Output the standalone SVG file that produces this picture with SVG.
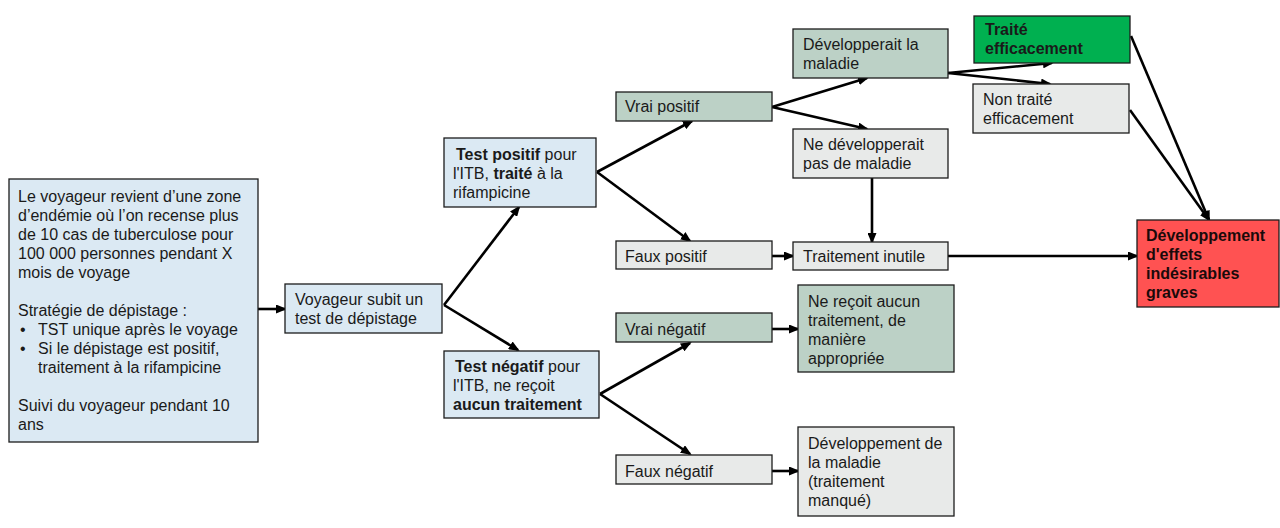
<svg xmlns="http://www.w3.org/2000/svg" width="1280" height="528" viewBox="0 0 1280 528">
<defs>
<marker id="ah" markerUnits="userSpaceOnUse" markerWidth="11" markerHeight="9" refX="9" refY="4.5" orient="auto">
<path d="M0,0 L11,4.5 L0,9 z" fill="#000"/>
</marker>
<style>
text{font-family:"Liberation Sans",Arial,sans-serif;font-size:16px;fill:#1a1a1a}
.b{font-weight:bold}
rect{stroke:#1c1c1c;stroke-width:1.3}
.blue{fill:#DBE9F3}
.sage{fill:#BCD1C6}
.gray{fill:#E8EAE9}
.green{fill:#00B050}
.red{fill:#FF5252}
.dark{fill:#1a0a0a}
#connectors line{stroke:#000;stroke-width:2.6;marker-end:url(#ah)}
</style>
</defs>
<rect width="1280" height="528" fill="#fff" style="stroke:none"/>

<g id="connectors">
<line x1="258" y1="309" x2="285" y2="309"/>
<line x1="444" y1="305" x2="519" y2="207"/>
<line x1="444" y1="305" x2="518" y2="350"/>
<line x1="597" y1="172" x2="692" y2="121"/>
<line x1="597" y1="172" x2="690" y2="241"/>
<line x1="600" y1="394" x2="690" y2="343"/>
<line x1="600" y1="394" x2="690" y2="454"/>
<line x1="772" y1="107" x2="867" y2="78"/>
<line x1="772" y1="107" x2="867" y2="129"/>
<line x1="772" y1="256" x2="793" y2="256"/>
<line x1="872" y1="178" x2="872" y2="242"/>
<line x1="948" y1="256" x2="1137" y2="256"/>
<line x1="948" y1="73" x2="1052" y2="63"/>
<line x1="948" y1="73" x2="1050" y2="84"/>
<line x1="1131" y1="36" x2="1209" y2="220"/>
<line x1="1130" y1="110" x2="1209" y2="220"/>
<line x1="772" y1="329" x2="798" y2="329"/>
<line x1="772" y1="471" x2="798" y2="471"/>
</g>

<g id="n-context">
<rect class="blue" x="9" y="179" width="249" height="263"/>
<text x="18" y="202">Le voyageur revient d’une zone</text>
<text x="18" y="221">d’endémie où l’on recense plus</text>
<text x="18" y="240">de 10 cas de tuberculose pour</text>
<text x="18" y="259">100 000 personnes pendant X</text>
<text x="18" y="278">mois de voyage</text>
<text x="18" y="316">Stratégie de dépistage :</text>
<text x="20" y="335">•</text><text x="38" y="335">TST unique après le voyage</text>
<text x="20" y="354">•</text><text x="38" y="354">Si le dépistage est positif,</text>
<text x="38" y="373">traitement à la rifampicine</text>
<text x="18" y="411">Suivi du voyageur pendant 10</text>
<text x="18" y="430">ans</text>
</g>

<g id="n-test">
<rect class="blue" x="285" y="284" width="157" height="49"/>
<text x="295" y="305">Voyageur subit un</text>
<text x="295" y="324">test de dépistage</text>
</g>

<g id="n-testpos">
<rect class="blue" x="444" y="138" width="152" height="69"/>
<text x="456" y="160"><tspan class="b">Test positif</tspan> pour</text>
<text x="453" y="179">l'ITB, <tspan class="b">traité</tspan> à la</text>
<text x="453" y="198">rifampicine</text>
</g>

<g id="n-testneg">
<rect class="blue" x="444" y="351" width="155" height="67"/>
<text x="455" y="372"><tspan class="b">Test négatif</tspan> pour</text>
<text x="453" y="391">l'ITB, ne reçoit</text>
<text x="453" y="410" class="b">aucun traitement</text>
</g>

<g id="n-vp">
<rect class="sage" x="616" y="92" width="156" height="29"/>
<text x="625" y="112">Vrai positif</text>
</g>

<g id="n-fp">
<rect class="gray" x="616" y="241" width="156" height="28"/>
<text x="625" y="262">Faux positif</text>
</g>

<g id="n-vn">
<rect class="sage" x="616" y="313" width="156" height="29"/>
<text x="625" y="335">Vrai négatif</text>
</g>

<g id="n-fn">
<rect class="gray" x="616" y="455" width="156" height="29"/>
<text x="625" y="477">Faux négatif</text>
</g>

<g id="n-dev">
<rect class="sage" x="793" y="29" width="155" height="49"/>
<text x="803" y="50">Développerait la</text>
<text x="803" y="69">maladie</text>
</g>

<g id="n-nodev">
<rect class="gray" x="793" y="129" width="155" height="49"/>
<text x="803" y="150">Ne développerait</text>
<text x="803" y="169">pas de maladie</text>
</g>

<g id="n-inutile">
<rect class="gray" x="793" y="242" width="155" height="28"/>
<text x="803" y="262">Traitement inutile</text>
</g>

<g id="n-recoit">
<rect class="sage" x="798" y="285" width="156" height="87"/>
<text x="808" y="307">Ne reçoit aucun</text>
<text x="808" y="326">traitement, de</text>
<text x="808" y="345">manière</text>
<text x="808" y="364">appropriée</text>
</g>

<g id="n-devmal">
<rect class="gray" x="798" y="427" width="156" height="89"/>
<text x="808" y="449">Développement de</text>
<text x="808" y="468">la maladie</text>
<text x="808" y="487">(traitement</text>
<text x="808" y="506">manqué)</text>
</g>

<g id="n-traite">
<rect class="green" x="974" y="16" width="156" height="47"/>
<text x="985" y="35" class="b">Traité</text>
<text x="985" y="54" class="b">efficacement</text>
</g>

<g id="n-nontraite">
<rect class="gray" x="973" y="84" width="156" height="49"/>
<text x="983" y="105">Non traité</text>
<text x="983" y="124">efficacement</text>
</g>

<g id="n-effets">
<rect class="red" x="1137" y="220" width="142" height="87"/>
<text x="1146" y="241" class="b dark">Développement</text>
<text x="1146" y="260" class="b dark">d'effets</text>
<text x="1146" y="279" class="b dark">indésirables</text>
<text x="1146" y="298" class="b dark">graves</text>
</g>
</svg>
